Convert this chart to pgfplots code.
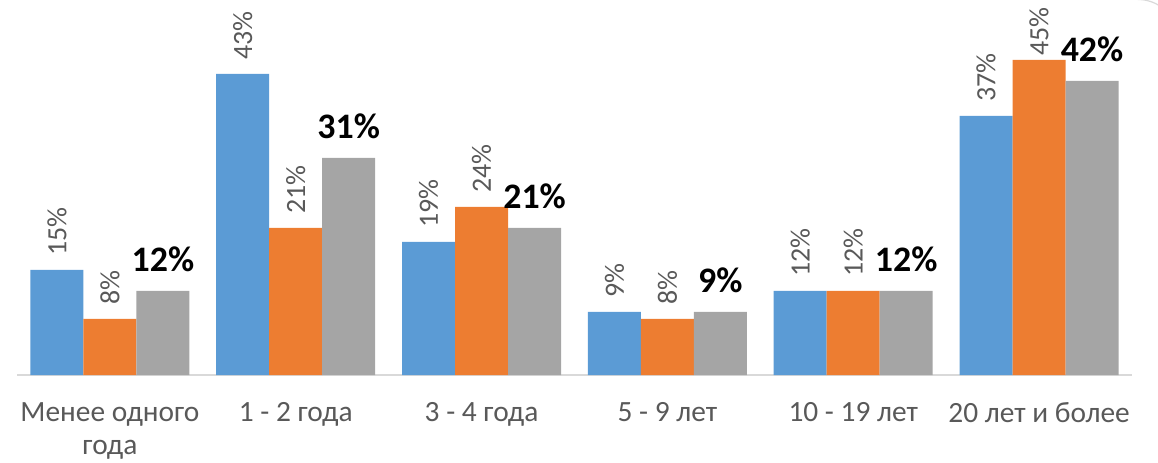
\documentclass[border=0pt]{standalone}
\usepackage{fontspec}
\setmainfont{Carlito}
\usepackage{pgfplots}
\usepackage{pgfplotstable}
\pgfplotsset{compat=1.18}
\definecolor{cblue}{HTML}{5B9BD5}
\definecolor{corange}{HTML}{ED7D31}
\definecolor{cgray}{HTML}{A5A5A5}
\definecolor{labgray}{HTML}{595959}
\definecolor{axisgray}{HTML}{D9D9D9}
\pgfplotstableread{
x blue orange gray
0 15 8 12
1 43 21 31
2 19 24 21
3 9 8 9
4 12 12 12
5 37 45 42
}\datatable
\begin{document}
\begin{tikzpicture}
\useasboundingbox (0,0) rectangle (1158bp,463bp);
\begin{axis}[
  at={(17bp,88bp)}, anchor=south west,
  scale only axis, width=1115bp, height=375bp,
  xmin=-0.5, xmax=5.5, ymin=0, ymax=53.57,
  ybar=0pt, bar width=53bp,
  /pgf/number format/assume math mode=true,
  axis x line*=bottom, axis y line=none,
  x axis line style={color=axisgray, line width=1.3bp, -},
  xtick={0,1,2,3,4,5},
  xticklabels={{Менее одного\\года},{1 - 2 года},{3 - 4 года},{5 - 9 лет},{10 - 19 лет},{20 лет и более}},
  xticklabel style={align=center, font=\fontsize{29.5}{33}\selectfont, text=labgray, yshift=-24bp},
  major tick length=0pt,
  ytick=\empty,
  clip=false,
]
\addplot[fill=cblue, draw=none,
  nodes near coords={\pgfmathprintnumber{\pgfplotspointmeta}\%},
  every node near coord/.append style={rotate=90, anchor=west, font=\fontsize{28}{33}\selectfont, text=labgray, xshift=11bp}]
  table[x=x, y=blue] {\datatable};
\addplot[fill=corange, draw=none,
  visualization depends on={y \as \rawy},
  nodes near coords={\pgfmathprintnumber{\pgfplotspointmeta}\%},
  every node near coord/.append style={rotate=90, anchor=west, font=\fontsize{28}{33}\selectfont, text=labgray, xshift={((\rawy>44)?1:11)*1bp}}]
  table[x=x, y=orange] {\datatable};
\addplot[fill=cgray, draw=none,
  nodes near coords={\pgfmathprintnumber{\pgfplotspointmeta}\%},
  every node near coord/.append style={anchor=south, font=\bfseries\fontsize{36}{40}\selectfont, text=black, yshift=16bp}]
  table[x=x, y=gray] {\datatable};
\end{axis}
\draw[color=axisgray, line width=1.2bp] (1138bp,463.5bp) arc[start angle=90, end angle=20, radius=40bp];
\end{tikzpicture}
\end{document}
